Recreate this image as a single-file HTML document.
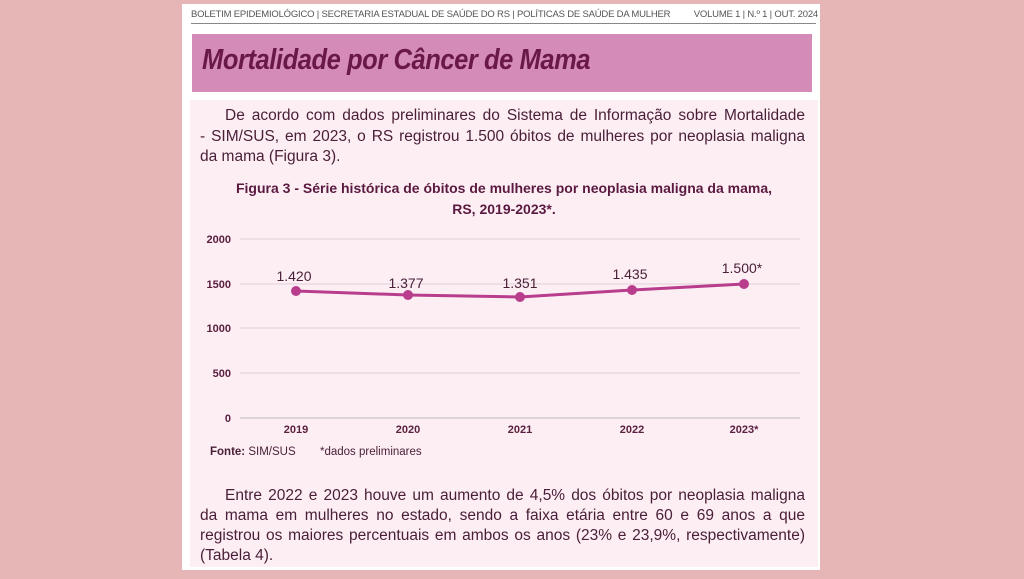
<!DOCTYPE html>
<html><head><meta charset="utf-8"><style>
html,body{margin:0;padding:0}
body{width:1024px;height:579px;background:#e5b6b5;position:relative;overflow:hidden;font-family:"Liberation Sans",sans-serif}
.page{position:absolute;left:182px;top:4px;width:638px;height:566px;background:#fff}
.hdr{position:absolute;top:9px;font-size:9.5px;color:#555;letter-spacing:-0.2px}
.band{position:absolute;left:192px;top:34px;width:620px;height:58px;background:#d48bb8}
.band div{position:absolute;left:10px;top:10px;font-size:29px;font-weight:bold;font-style:italic;color:#6a1848;letter-spacing:-0.5px;transform:scaleX(0.88);transform-origin:left}
.panel{position:absolute;left:190px;top:100px;width:628px;height:467px;background:#fdeef4}
.l{position:absolute;left:200px;width:605px;font-size:15.5px;line-height:20px;color:#4a2038;text-align:justify;text-align-last:justify;white-space:nowrap}
.l.i{left:225px;width:580px}
.l.n{text-align-last:left}
.cap{position:absolute;left:190px;width:628px;text-align:center;font-size:14px;font-weight:bold;color:#5a1a40;line-height:21px}
</style></head><body>
<div class="page"></div>
<div class="hdr" style="left:191px">BOLETIM EPIDEMIOLÓGICO | SECRETARIA ESTADUAL DE SAÚDE DO RS | POLÍTICAS DE SAÚDE DA MULHER</div>
<div class="hdr" style="right:206px">VOLUME 1 | N.º 1 | OUT. 2024</div>
<div style="position:absolute;left:191px;top:23px;width:625px;height:1px;background:#888"></div>
<div class="band"><div>Mortalidade por Câncer de Mama</div></div>
<div class="panel"></div>
<div class="l i" style="top:106px">De acordo com dados preliminares do Sistema de Informação sobre Mortalidade</div>
<div class="l" style="top:127px">- SIM/SUS, em 2023, o RS registrou 1.500 óbitos de mulheres por neoplasia maligna</div>
<div class="l n" style="top:147px">da mama (Figura 3).</div>
<div class="cap" style="top:178px">Figura 3 - Série histórica de óbitos de mulheres por neoplasia maligna da mama,<br>RS, 2019-2023*.</div>
<svg style="position:absolute;left:0;top:0" width="1024" height="579">
<g stroke="#ddd0d6" stroke-width="1">
<line x1="240" y1="239" x2="800" y2="239"/><line x1="240" y1="284" x2="800" y2="284"/>
<line x1="240" y1="328" x2="800" y2="328"/><line x1="240" y1="373" x2="800" y2="373"/>
</g>
<line x1="240" y1="418" x2="800" y2="418" stroke="#bbb"/>
<g font-size="11" font-weight="bold" fill="#5a2040" text-anchor="end" font-family="Liberation Sans">
<text x="231" y="243">2000</text><text x="231" y="288">1500</text><text x="231" y="332">1000</text><text x="231" y="377">500</text><text x="231" y="422">0</text>
</g>
<g font-size="11" font-weight="bold" fill="#5a2040" text-anchor="middle" font-family="Liberation Sans">
<text x="296" y="433">2019</text><text x="408" y="433">2020</text><text x="520" y="433">2021</text><text x="632" y="433">2022</text><text x="744" y="433">2023*</text>
</g>
<polyline points="296,291 408,295 520,297 632,290 744,284" fill="none" stroke="#b83d8c" stroke-width="3"/>
<g fill="#b83d8c"><circle cx="296" cy="291" r="5"/><circle cx="408" cy="295" r="5"/><circle cx="520" cy="297" r="5"/><circle cx="632" cy="290" r="5"/><circle cx="744" cy="284" r="5"/></g>
<g font-size="14" fill="#4a2038" text-anchor="middle" font-family="Liberation Sans">
<text x="294" y="281">1.420</text><text x="406" y="288">1.377</text><text x="520" y="288">1.351</text><text x="630" y="279">1.435</text><text x="742" y="273">1.500*</text>
</g>
<text x="210" y="455" font-size="11.5" fill="#4a2038" font-family="Liberation Sans"><tspan font-weight="bold">Fonte:</tspan> SIM/SUS</text>
<text x="320" y="455" font-size="11.5" fill="#4a2038" font-family="Liberation Sans">*dados preliminares</text>
</svg>
<div class="l i" style="top:486px">Entre 2022 e 2023 houve um aumento de 4,5% dos óbitos por neoplasia maligna</div>
<div class="l" style="top:506px">da mama em mulheres no estado, sendo a faixa etária entre 60 e 69 anos a que</div>
<div class="l" style="top:526px">registrou os maiores percentuais em ambos os anos (23% e 23,9%, respectivamente)</div>
<div class="l n" style="top:546px">(Tabela 4).</div>
</body></html>
